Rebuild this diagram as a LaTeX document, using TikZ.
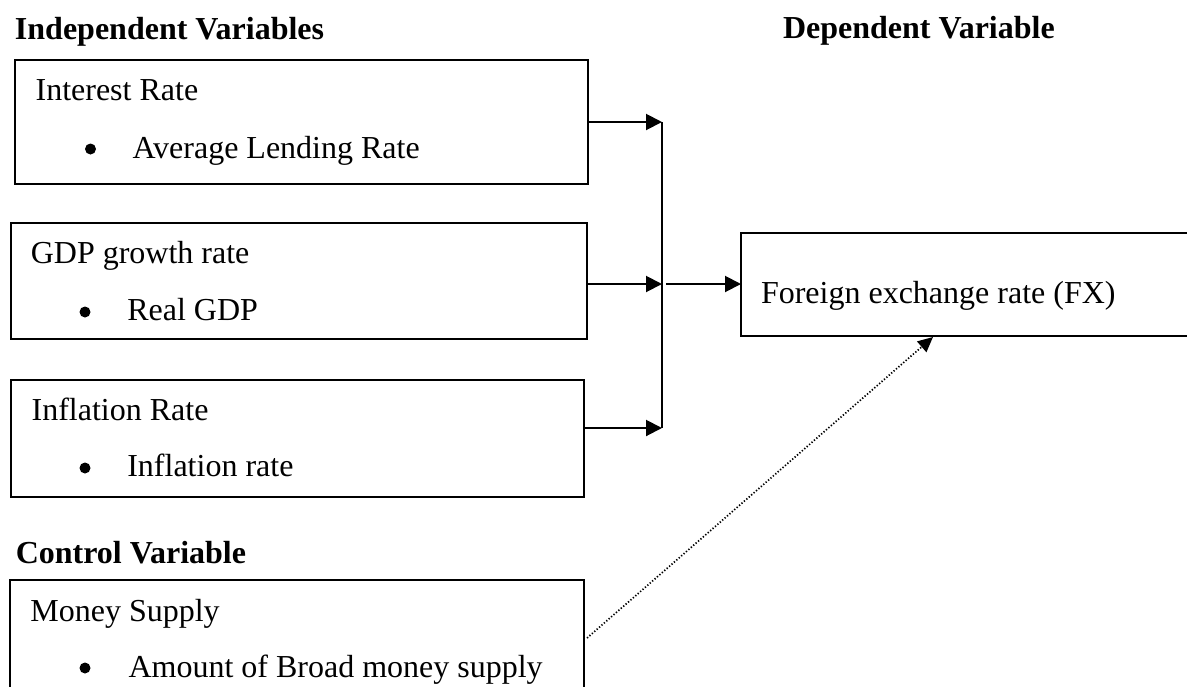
\documentclass[tikz,border=0pt]{standalone}
\usepackage{fontspec}
\setmainfont{Liberation Serif}
\usetikzlibrary{arrows.meta}
\begin{document}
\begin{tikzpicture}[x=1pt,y=-1pt,
  txt/.style={anchor=base west,inner sep=0pt,outer sep=0pt,font=\fontsize{32pt}{38pt}\selectfont},
  head/.style={txt,font=\fontsize{32pt}{38pt}\selectfont\bfseries},
  box/.style={draw=black,line width=2pt,rectangle,anchor=north west,inner sep=0pt,outer sep=0pt},
  bul/.style={circle,fill=black,inner sep=0pt,minimum size=11pt},
  arr/.style={line width=2pt,-{Triangle[length=16pt,width=16pt]}},
  dotarr/.style={line width=1.7pt,dash pattern=on 1.3pt off 1.9pt,-{Triangle[length=15pt,width=14pt]}}
]
\useasboundingbox (0,0) rectangle (1187,686);
\clip (0,0) rectangle (1187,686);

% headings
\node[head] (hind) at (15,39) {Independent Variables};
\node[head] (hdep) at (783,38.3) {Dependent Variable};
\node[head] (hctl) at (15.8,563) {Control Variable};

% boxes
\node[box,minimum width=573pt,minimum height=124pt] (ir) at (14.5,60) {};
\node[box,minimum width=576pt,minimum height=116pt] (gdp) at (10.7,223) {};
\node[box,minimum width=573pt,minimum height=117pt] (inf) at (10.7,380) {};
\node[box,minimum width=574pt,minimum height=140pt] (ms) at (9.5,580) {};
\node[box,minimum width=459pt,minimum height=103pt] (fx) at (741,233) {};

% box texts
\node[txt] (irt) at (35.6,100.5) {Interest Rate};
\node[bul] (irb) at (90.5,149) {};
\node[txt] (iri) at (132.5,158) {Average Lending Rate};

\node[txt] (gdpt) at (30.8,263.3) {GDP growth rate};
\node[bul] (gdpb) at (85,312) {};
\node[txt] (gdpi) at (127.3,320.7) {Real GDP};

\node[txt] (inft) at (31.6,420) {Inflation Rate};
\node[bul] (infb) at (85,468) {};
\node[txt] (infi) at (127.3,476.7) {Inflation rate};

\node[txt] (mst) at (30.4,621.7) {Money Supply};
\node[bul] (msb) at (85,668) {};
\node[txt] (msi) at (128.5,677) {Amount of Broad money supply};

\node[txt] (fxt) at (761,303) {Foreign exchange rate (FX)};

% junction
\coordinate (jt) at (662,122);
\coordinate (jm) at (662,284);
\coordinate (jb) at (662,428);
\coordinate (jo) at (666,284);
\coordinate (ds) at (587,638);
\coordinate (de) at (933,337);

\draw[line width=2pt] (jt) -- (jb);
\draw[arr] (ir.east |- jt) -- (jt);
\draw[arr] (gdp.east |- jm) -- (jm);
\draw[arr] (inf.east |- jb) -- (jb);
\draw[arr] (jo) -- (fx.west |- jo);
\draw[dotarr] (ds) -- (de);
\end{tikzpicture}
\end{document}
